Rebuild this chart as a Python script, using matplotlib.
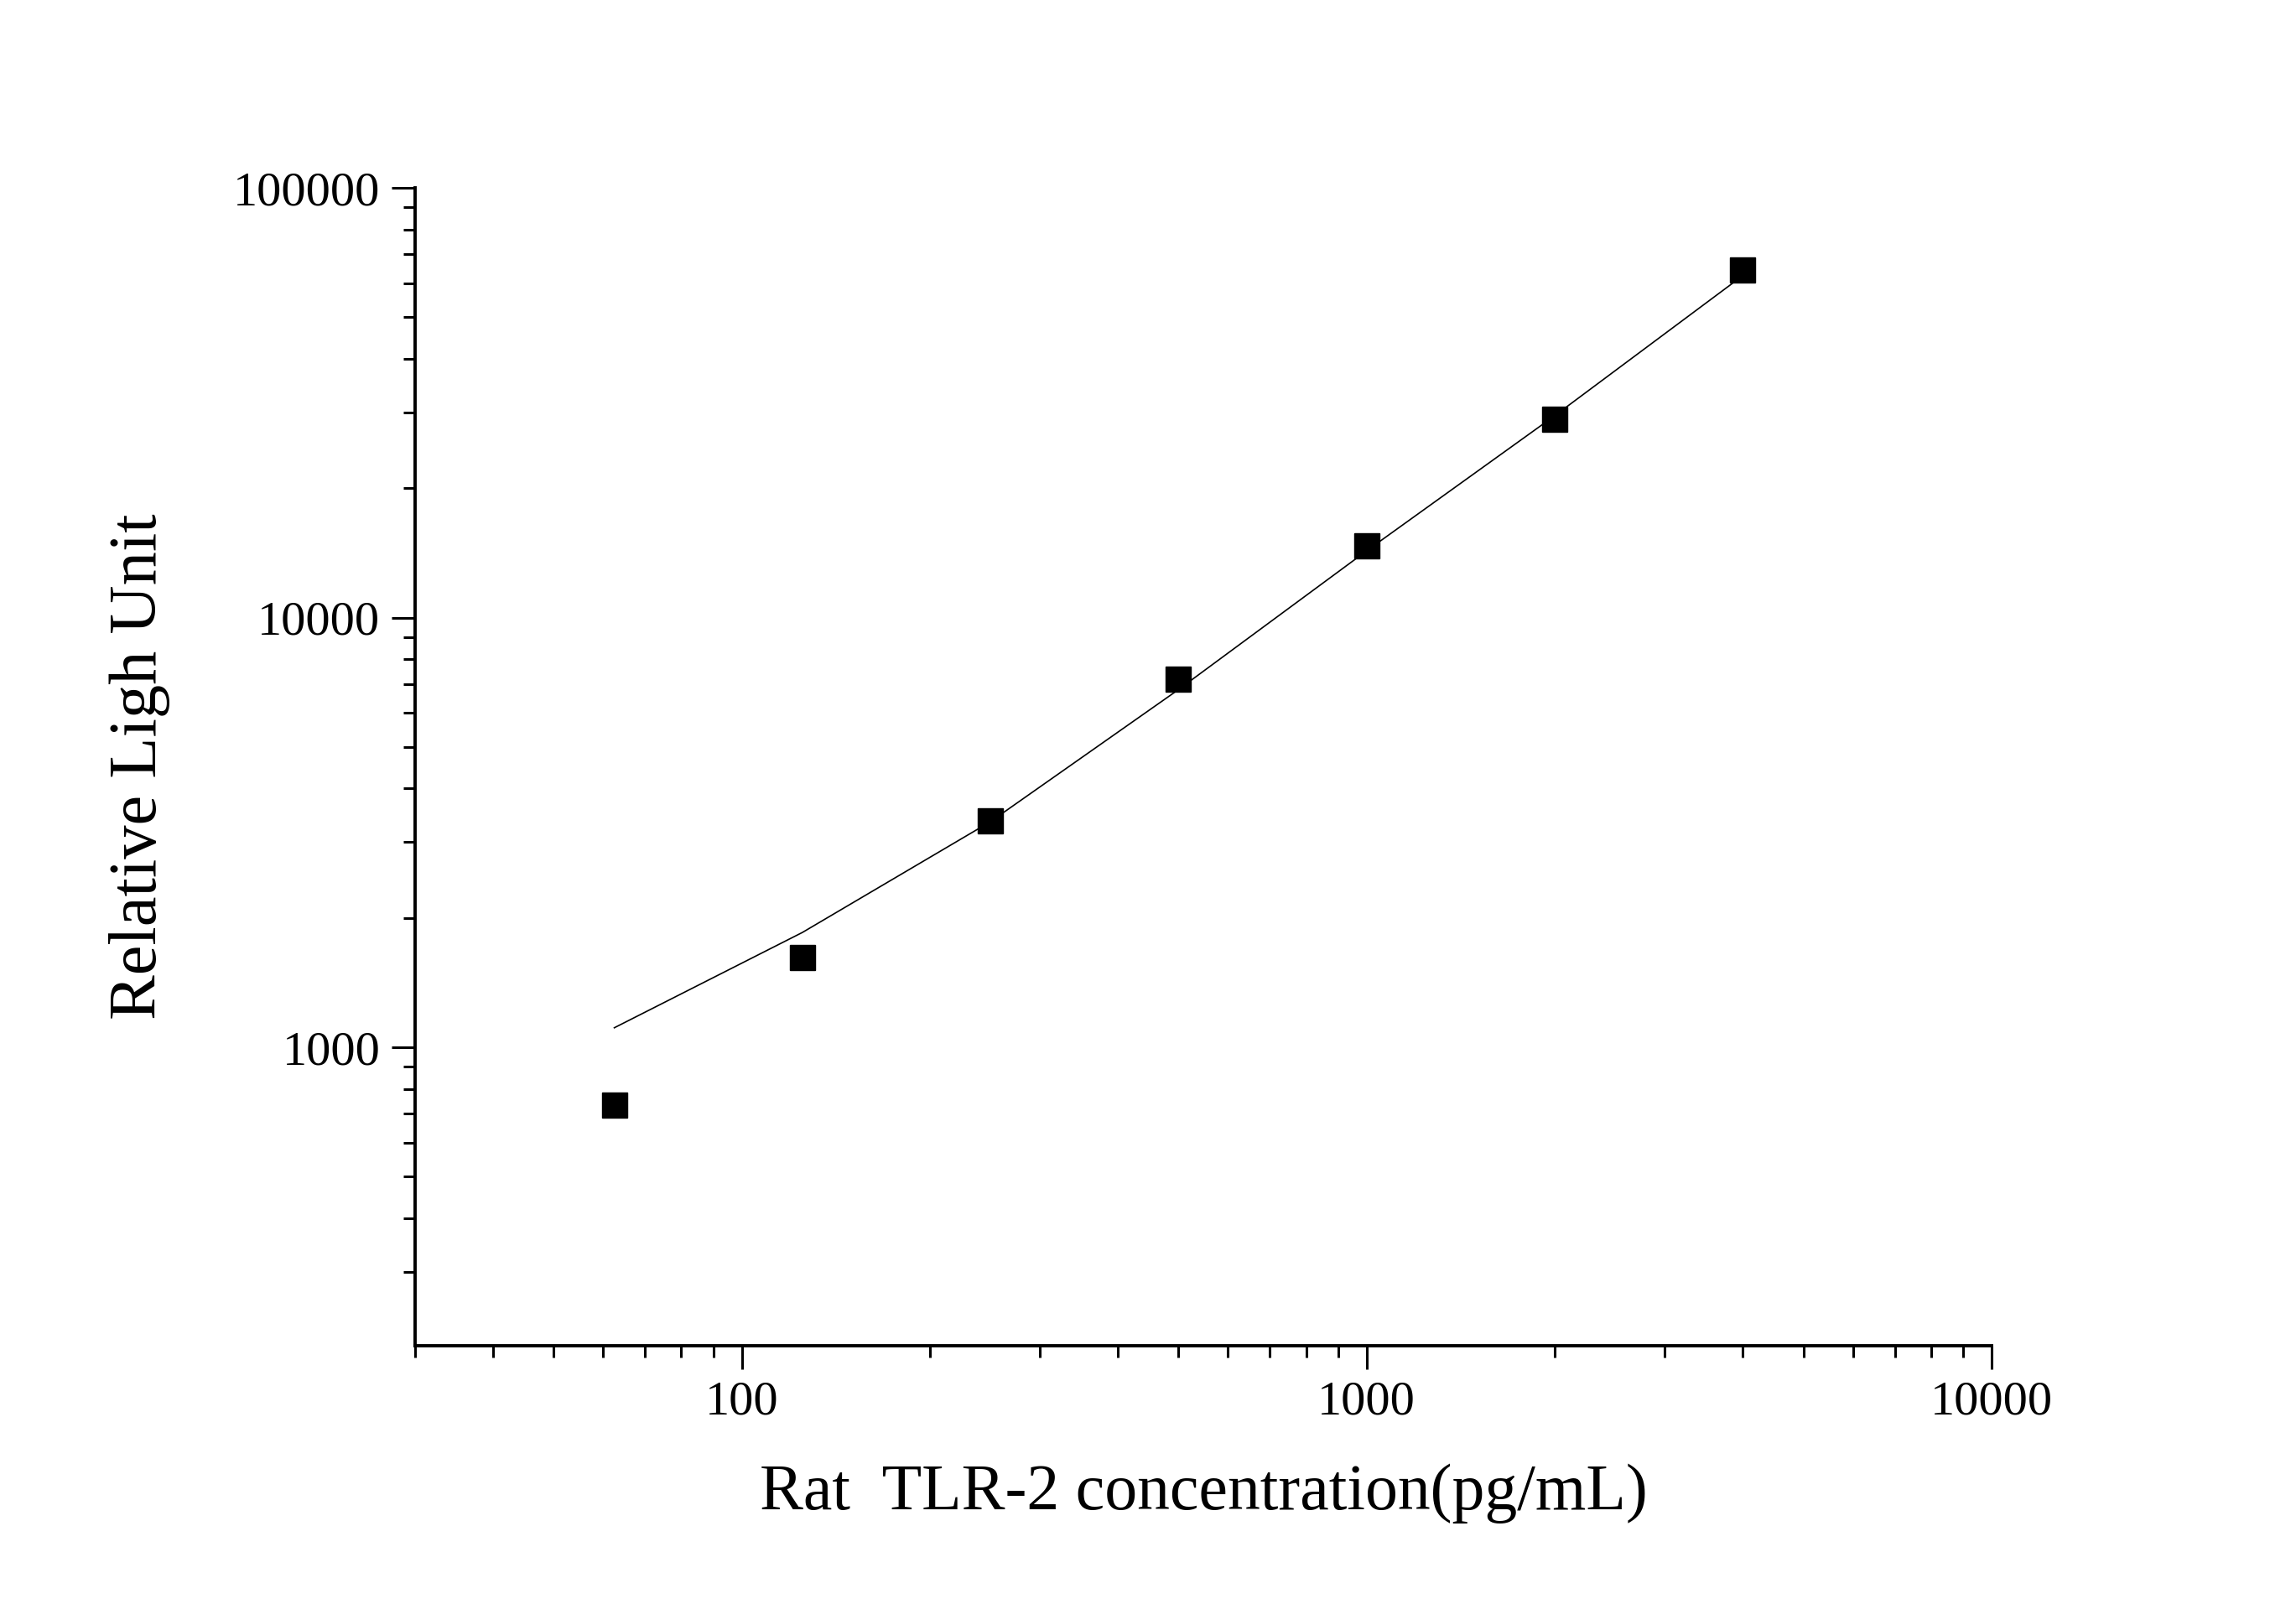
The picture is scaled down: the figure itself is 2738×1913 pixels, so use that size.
import matplotlib
matplotlib.use("Agg")
import matplotlib.pyplot as plt
from matplotlib.ticker import LogLocator, NullFormatter, FixedLocator, FixedFormatter

# standards (pg/mL) and measured signal
conc = [62.5, 125, 250, 500, 1000, 2000, 4000]
rlu = [735, 1620, 3360, 7200, 14700, 29000, 64500]
# fitted curve evaluated at the standards
fit = [1110, 1850, 3350, 6800, 14300, 29500, 62500]

xticks = [100, 1000, 10000]
yticks = [1000, 10000, 100000]

plt.rcParams['font.family'] = ['Liberation Serif', 'DejaVu Serif']

fig = plt.figure(figsize=(27.38, 19.13), dpi=100)
ax = fig.add_axes([0.1808, 0.161, 0.6866, 0.7219])

ax.plot(conc, fit, color='black', lw=1.2)
ax.plot(conc, rlu, 's', color='black', ms=22)

ax.set_xscale('log')
ax.set_yscale('log')
ax.set_xlim(30, 10000)
ax.set_ylim(202, 100000)

ax.xaxis.set_major_locator(FixedLocator(xticks))
ax.xaxis.set_major_formatter(FixedFormatter([str(v) for v in xticks]))
ax.yaxis.set_major_locator(FixedLocator(yticks))
ax.yaxis.set_major_formatter(FixedFormatter([str(v) for v in yticks]))
ax.xaxis.set_minor_locator(LogLocator(base=10, subs=range(2, 10)))
ax.yaxis.set_minor_locator(LogLocator(base=10, subs=range(2, 10)))
ax.xaxis.set_minor_formatter(NullFormatter())
ax.yaxis.set_minor_formatter(NullFormatter())

for s in ['top', 'right']:
    ax.spines[s].set_visible(False)
for s in ['left', 'bottom']:
    ax.spines[s].set_linewidth(2.8)

ax.tick_params(which='major', direction='out', length=20, width=2.2, labelsize=42)
ax.tick_params(which='minor', direction='out', length=10, width=2.2)
ax.tick_params(axis='x', which='major', pad=10)
ax.tick_params(axis='y', which='major', pad=10)

ax.set_xlabel('Rat  TLR-2 concentration(pg/mL)', fontsize=56, labelpad=34)
ax.set_ylabel('Relative Ligh Unit', fontsize=58, labelpad=54)

fig.savefig('out.png', dpi=100, facecolor='white')
